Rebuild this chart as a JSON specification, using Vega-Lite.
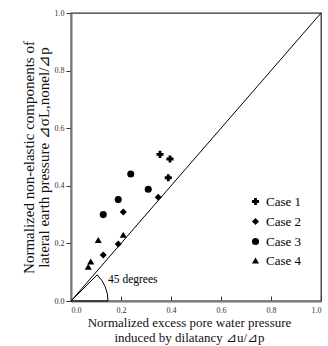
{
  "$schema": "https://vega.github.io/schema/vega-lite/v6.json",
  "width": 250,
  "height": 288,
  "autosize": {"type": "none"},
  "padding": {"left": 71, "top": 13, "right": 7, "bottom": 45},
  "config": {
    "font": "Times New Roman, Liberation Serif, DejaVu Serif, serif",
    "view": {"stroke": "#333", "strokeWidth": 1.3},
    "axis": {"grid": false, "domainColor": "#777", "domainWidth": 2, "tickColor": "#333", "labelColor": "#333", "titleColor": "#111", "labelFont": "Times New Roman, Liberation Serif, serif", "titleFont": "Times New Roman, Liberation Serif, serif", "titleFontWeight": "normal", "labelFontSize": 8, "titleFontSize": 13},
    "legend": {"labelFont": "Times New Roman, Liberation Serif, serif"},
    "text": {"font": "Times New Roman, Liberation Serif, serif"}
  },
  "datasets": {
    "pts": [
      {"case": "Case 1", "u": 0.356, "s": 0.509},
      {"case": "Case 1", "u": 0.396, "s": 0.493},
      {"case": "Case 1", "u": 0.389, "s": 0.428},
      {"case": "Case 2", "u": 0.129, "s": 0.16},
      {"case": "Case 2", "u": 0.189, "s": 0.198},
      {"case": "Case 2", "u": 0.209, "s": 0.309},
      {"case": "Case 2", "u": 0.349, "s": 0.36},
      {"case": "Case 3", "u": 0.129, "s": 0.30},
      {"case": "Case 3", "u": 0.189, "s": 0.352},
      {"case": "Case 3", "u": 0.239, "s": 0.441},
      {"case": "Case 3", "u": 0.309, "s": 0.388},
      {"case": "Case 4", "u": 0.109, "s": 0.212},
      {"case": "Case 4", "u": 0.209, "s": 0.23},
      {"case": "Case 4", "u": 0.079, "s": 0.137},
      {"case": "Case 4", "u": 0.069, "s": 0.119}
    ],
    "diag": [{"u": 0, "s": 0}, {"u": 1, "s": 1}],
    "origin": [{"u": 0, "s": 0, "label": "45 degrees", "lu": 0.148, "ls": 0.073}]
  },
  "layer": [
    {
      "data": {"name": "diag"},
      "mark": {"type": "line", "color": "black", "strokeWidth": 1},
      "encoding": {
        "x": {"field": "u", "type": "quantitative", "scale": {"domain": [0, 1]},
          "axis": {"values": [0, 0.2, 0.4, 0.6, 0.8, 1.0], "format": ".1f", "tickSize": -5, "labelPadding": 10, "title": ["Normalized excess pore water pressure", "induced by dilatancy  ⊿u/⊿p"], "titlePadding": 2, "titleX": 118}},
        "y": {"field": "s", "type": "quantitative", "scale": {"domain": [0, 1]},
          "axis": {"values": [0, 0.2, 0.4, 0.6, 0.8, 1.0], "format": ".1f", "tickSize": 5, "labelPadding": 2, "title": ["Normalized non-elastic components of", "lateral earth pressure  ⊿σL,nonel/⊿p"], "titleFontSize": 15, "titleLineHeight": 15, "titlePadding": 3}}
      }
    },
    {
      "data": {"name": "origin"},
      "mark": {"type": "arc", "theta": 0.7854, "theta2": 1.5708, "radius": 37, "fill": null, "fillOpacity": 0, "stroke": "black", "strokeWidth": 1},
      "encoding": {
        "x": {"field": "u", "type": "quantitative"},
        "y": {"field": "s", "type": "quantitative"}
      }
    },
    {
      "data": {"name": "origin"},
      "mark": {"type": "text", "align": "left", "baseline": "middle", "fontSize": 11.5, "color": "black"},
      "encoding": {
        "x": {"field": "lu", "type": "quantitative"},
        "y": {"field": "ls", "type": "quantitative"},
        "text": {"field": "label"}
      }
    },
    {
      "data": {"name": "pts"},
      "mark": {"type": "point", "filled": true, "color": "black", "opacity": 1, "size": 50},
      "encoding": {
        "x": {"field": "u", "type": "quantitative"},
        "y": {"field": "s", "type": "quantitative"},
        "shape": {"field": "case", "type": "nominal",
          "scale": {"domain": ["Case 1", "Case 2", "Case 3", "Case 4"], "range": ["cross", "diamond", "circle", "triangle-up"]},
          "legend": {"title": null, "orient": "none", "legendX": 178, "legendY": 182, "labelFontSize": 13, "labelColor": "black", "rowPadding": 5, "symbolFillColor": "black", "symbolStrokeColor": "black", "symbolSize": 50, "symbolOpacity": 1}}
      }
    }
  ]
}
